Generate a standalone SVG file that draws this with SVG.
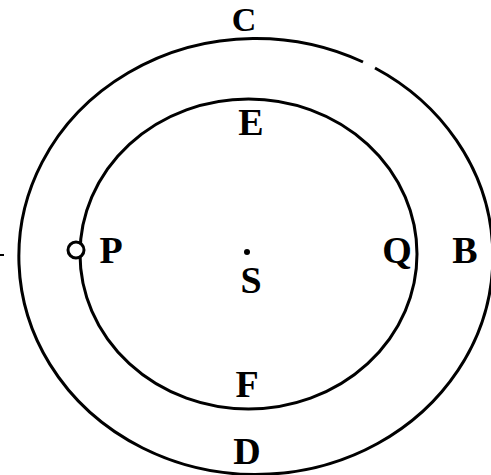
<svg xmlns="http://www.w3.org/2000/svg" width="491" height="475" viewBox="0 0 491 475">
<style>
.orb{fill:none;stroke:#000;stroke-width:3}
.lbl{font-family:"Liberation Serif","Times New Roman",serif;font-weight:bold;font-size:38px;fill:#000;text-anchor:middle}
</style>
<rect width="491" height="475" fill="#fff"/>
<g id="connectors">
<path id="outer" class="orb" d="M375,68 A237,218 0 1 1 363,62"/>
<ellipse id="inner" class="orb" cx="248.5" cy="254" rx="168.5" ry="155"/>
<line x1="0" y1="255" x2="4" y2="255" stroke="#000" stroke-width="2"/>
</g>
<g id="sun"><circle cx="247" cy="252" r="3" fill="#000"/><text class="lbl" x="251" y="293">S</text></g>
<g id="planet"><circle cx="76" cy="250" r="8" fill="#fff" stroke="#000" stroke-width="3"/><text class="lbl" x="111" y="263">P</text></g>
<g id="C"><text class="lbl" x="244" y="31" style="font-size:34px">C</text></g>
<g id="E"><text class="lbl" x="251" y="135">E</text></g>
<g id="Q"><text class="lbl" x="397" y="263">Q</text></g>
<g id="B"><text class="lbl" x="465" y="263">B</text></g>
<g id="F"><text class="lbl" x="247" y="397">F</text></g>
<g id="D"><text class="lbl" x="247" y="464">D</text></g>
</svg>
